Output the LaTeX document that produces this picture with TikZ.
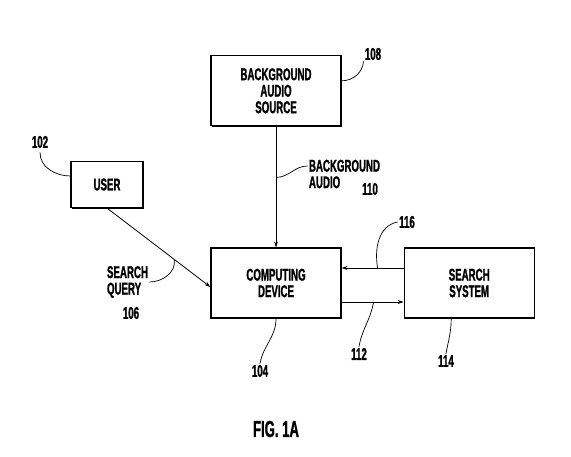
\documentclass[tikz,border=0pt]{standalone}
\usepackage{fontspec}
\newfontfamily\patfont[FakeStretch=0.57,FakeBold=1.2]{Liberation Sans}
\usetikzlibrary{positioning}
\usetikzlibrary{calc}
\usetikzlibrary{shadows}
\usetikzlibrary{arrows.meta}
\begin{document}
\begin{tikzpicture}[x=1pt,y=1pt,>={Stealth[length=6pt,width=4pt]},line width=0.8pt,
					font=\patfont\bfseries\fontsize{17}{16.5}\selectfont]
					\tikzstyle{block}=[draw,fill=white,line width=1.2pt,minimum width=130pt,minimum height=70pt,align=center,
						drop shadow={shadow xshift=1.1pt,shadow yshift=-1.1pt,fill=black,opacity=1}]
					\tikzstyle{num}=[inner sep=1pt]
					\tikzstyle{lead}=[line width=0.7pt]
					\useasboundingbox (0,0) rectangle (571,-457);
					
					\node[block]         (comp) at (276,-283)          {COMPUTING\\DEVICE};
					\node[block]         (src) [above=121pt of comp]   {BACKGROUND\\AUDIO\\SOURCE};
					\node[block]         (search) [right=62pt of comp] {SEARCH\\SYSTEM};
					\node[block,minimum width=72pt,minimum height=46pt] (user) at (107,-184.5) {USER};
					
					\node[num]           (n108) at (373,-54)     {108};
					\node[num]           (n102) at (40,-142)     {102};
					\node[num,align=left] (bga) at (344.5,-174)  {BACKGROUND\\AUDIO};
					\node[num]           (n110) at (370,-189)    {110};
					\node[num,align=left] (sq) at (127.5,-282)   {SEARCH\\QUERY};
					\node[num]           (n106) at (131,-313)    {106};
					\node[num]           (n116) at (407,-222)    {116};
					\node[num]           (n112) at (359,-354)    {112};
					\node[num]           (n114) at (446,-361)    {114};
					\node[num]           (n104) at (260,-371)    {104};
					\node[num,font=\patfont\bfseries\fontsize{23}{24}\selectfont] (fig) at (276,-429) {FIG. 1A};
					
					\coordinate (a110) at ($(src.south)+(0,-51)$);
					\coordinate (a116) at ($(search.west)+(-26,15)$);
					\coordinate (a112) at ($(comp.east)+(32,-19)$);
					\coordinate (q106) at ($(user.south)!0.65!([yshift=-4pt]comp.west)$);
					
					\path[->] (src) edge (comp)
					(user.south) edge ([yshift=-4pt]comp.west)
					([yshift=15pt]search.west) edge ([yshift=15pt]comp.east)
					([yshift=-19pt]comp.east) edge ([yshift=-19pt]search.west);
					
					\path[lead] ([yshift=10pt]src.east) edge[out=0,in=-95] (n108.south west)
					([yshift=8.5pt]user.west) edge[out=180,in=-90] ([yshift=-3pt]n102.south)
					(a110) edge[out=0,in=180] ([yshift=8pt]bga.west)
					(a116) edge[out=100,in=190] (n116.west)
					(a112) edge[out=-100,in=80] (n112.north)
					([xshift=-18pt]search.south) edge[out=-90,in=80] (n114.north)
					(comp.south) edge[out=-90,in=80] (n104.north)
					(sq.east) edge[out=0,in=-80] (q106);
					
\end{tikzpicture}
\end{document}
